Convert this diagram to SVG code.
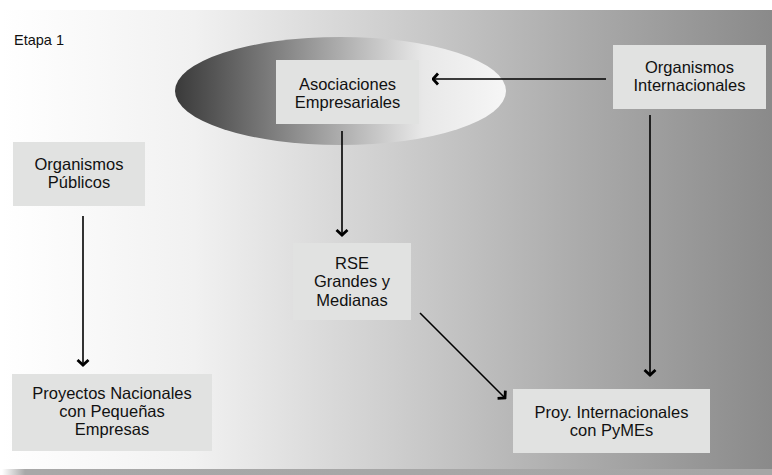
<svg xmlns="http://www.w3.org/2000/svg" width="772" height="475" viewBox="0 0 772 475">
<defs>
<linearGradient id="bg" x1="0" y1="0" x2="1" y2="0">
<stop offset="0" stop-color="#ffffff"/>
<stop offset="0.25" stop-color="#f1f1f1"/>
<stop offset="0.5" stop-color="#cfcfcf"/>
<stop offset="0.75" stop-color="#ababab"/>
<stop offset="1" stop-color="#8a8a8a"/>
</linearGradient>
<linearGradient id="ell" x1="0" y1="0" x2="1" y2="0">
<stop offset="0" stop-color="#3a3a3a"/>
<stop offset="0.35" stop-color="#8a8a8a"/>
<stop offset="0.75" stop-color="#e8e8e8"/>
<stop offset="1" stop-color="#f6f6f6"/>
</linearGradient>
<linearGradient id="shadow" x1="0" y1="0" x2="1" y2="0">
<stop offset="0" stop-color="#ffffff"/>
<stop offset="0.03" stop-color="#a8a8a8"/>
<stop offset="1" stop-color="#a6a6a6"/>
</linearGradient>
<marker id="ah" viewBox="0 0 8 14" refX="6.5" refY="7" markerWidth="8" markerHeight="14" markerUnits="userSpaceOnUse" orient="auto">
<path d="M1.5,1.5 L6.5,7 L1.5,12.5" fill="none" stroke="#000" stroke-width="2.8"/>
</marker>
<style>
.box{fill:#e1e2e1}
.t{font-family:"Liberation Sans",Arial,sans-serif;font-size:16.5px;fill:#111;text-anchor:middle}
.c{stroke:#000;stroke-width:1.6;fill:none;marker-end:url(#ah)}
</style>
</defs>
<rect x="0" y="0" width="772" height="475" fill="#ffffff"/>
<rect x="2" y="469" width="770" height="6" fill="url(#shadow)"/>
<rect x="2" y="10" width="770" height="459" fill="url(#bg)"/>
<ellipse cx="340.5" cy="91" rx="165.5" ry="54" fill="url(#ell)"/>
<text x="14" y="45" font-family="Liberation Sans,Arial,sans-serif" font-size="14.5" fill="#111">Etapa 1</text>

<g id="asociaciones">
<rect class="box" x="276" y="60" width="143" height="64"/>
<text class="t" x="347.5" y="90">Asociaciones</text>
<text class="t" x="347.5" y="108">Empresariales</text>
</g>
<g id="org-internacionales">
<rect class="box" x="613" y="45" width="153" height="64"/>
<text class="t" x="689.5" y="73">Organismos</text>
<text class="t" x="689.5" y="91">Internacionales</text>
</g>
<g id="org-publicos">
<rect class="box" x="13" y="142" width="132" height="64"/>
<text class="t" x="79" y="170">Organismos</text>
<text class="t" x="79" y="188">Públicos</text>
</g>
<g id="rse">
<rect class="box" x="293" y="243" width="118" height="77"/>
<text class="t" x="352" y="269">RSE</text>
<text class="t" x="352" y="287">Grandes y</text>
<text class="t" x="352" y="306">Medianas</text>
</g>
<g id="proyectos-nacionales">
<rect class="box" x="12" y="374" width="200" height="77"/>
<text class="t" x="112" y="399">Proyectos Nacionales</text>
<text class="t" x="112" y="417">con Pequeñas</text>
<text class="t" x="112" y="435">Empresas</text>
</g>
<g id="proy-internacionales">
<rect class="box" x="513" y="389" width="197" height="64"/>
<text class="t" x="611.5" y="418">Proy. Internacionales</text>
<text class="t" x="611.5" y="436">con PyMEs</text>
</g>

<g id="connectors">
<line class="c" x1="606" y1="79" x2="433" y2="79"/>
<line class="c" x1="342" y1="131" x2="342" y2="235"/>
<line class="c" x1="83" y1="216" x2="83" y2="365"/>
<line class="c" x1="650" y1="115" x2="650" y2="375"/>
<line class="c" x1="420" y1="313" x2="505" y2="398"/>
</g>
</svg>
